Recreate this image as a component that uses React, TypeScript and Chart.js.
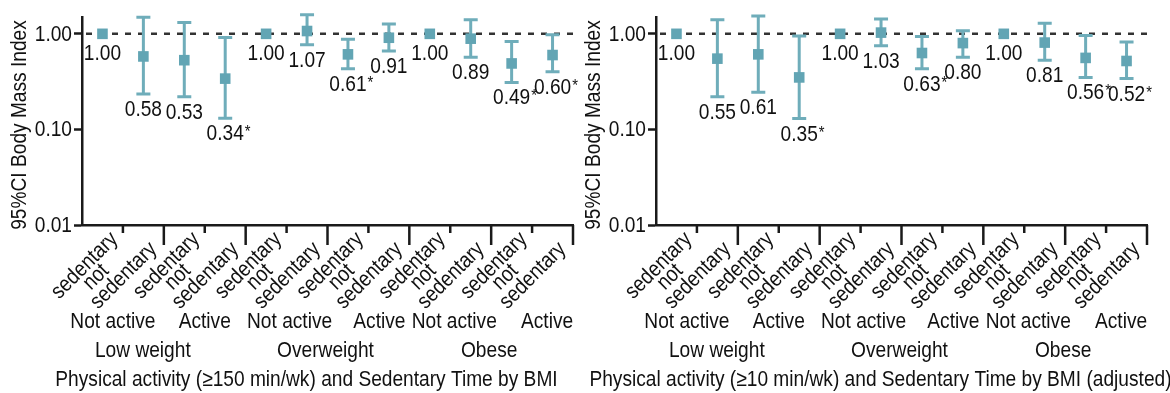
import React, { useEffect, useRef } from "react";
import { Chart, registerables } from "chart.js";

Chart.register(...registerables);

// ---------- data ----------
const categoryLines: string[][] = [
  ["sedentary", "not"], ["sedentary"],
  ["sedentary", "not"], ["sedentary"],
  ["sedentary", "not"], ["sedentary"],
  ["sedentary", "not"], ["sedentary"],
  ["sedentary", "not"], ["sedentary"],
  ["sedentary", "not"], ["sedentary"],
];
const activityGroups = ["Not active", "Active", "Not active", "Active", "Not active", "Active"];
const bmiGroups = ["Low weight", "Overweight", "Obese"];
const yTickValues = [0.01, 0.1, 1];
const yTitle = "95%CI Body Mass Index";

const leftTitle = "Physical activity (≥150 min/wk) and Sedentary Time by BMI";
const leftOR = [1.0, 0.58, 0.53, 0.34, 1.0, 1.07, 0.61, 0.91, 1.0, 0.89, 0.49, 0.6];
const leftLower = [null, 0.235, 0.22, 0.131, null, 0.77, 0.43, 0.66, null, 0.57, 0.31, 0.4];
const leftUpper = [null, 1.49, 1.31, 0.915, null, 1.58, 0.88, 1.27, null, 1.4, 0.83, 0.98];
const leftStar = [false, false, false, true, false, false, true, false, false, false, true, true];

const rightTitle = "Physical activity (≥10 min/wk) and Sedentary Time by BMI (adjusted)";
const rightOR = [1.0, 0.55, 0.61, 0.35, 1.0, 1.03, 0.63, 0.8, 1.0, 0.81, 0.56, 0.52];
const rightLower = [null, 0.22, 0.245, 0.13, null, 0.75, 0.43, 0.57, null, 0.53, 0.35, 0.34];
const rightUpper = [null, 1.4, 1.54, 0.95, null, 1.43, 0.94, 1.08, null, 1.29, 0.96, 0.82];
const rightStar = [false, false, false, true, false, false, true, false, false, false, true, true];

// ---------- styles ----------
const FONT = '"Liberation Sans", Arial, sans-serif';
const FS = 22;
const HS = 0.87; // horizontal condensing of text
const TEXT = "#111";
const AXIS = "#1a1a1a";
const POINT = "#62a5b4";
const BAR = "#6fadba";
// small horizontal nudges of group labels, as in the original layout
const activityNudge = [-10, 0, 3, 11, 4, 15];
const bmiNudge = [-21, -2, -2];

type PanelData = {
  title: string;
  or: number[];
  lower: (number | null)[];
  upper: (number | null)[];
  star: boolean[];
};

function drawText(
  ctx: CanvasRenderingContext2D,
  s: string,
  x: number,
  y: number,
  align: CanvasTextAlign,
  baseline: CanvasTextBaseline,
  size = FS,
  rot = 0
) {
  ctx.save();
  ctx.translate(x, y);
  if (rot) ctx.rotate(rot);
  ctx.scale(HS, 1);
  ctx.font = `${size}px ${FONT}`;
  ctx.fillStyle = TEXT;
  ctx.textAlign = align;
  ctx.textBaseline = baseline;
  ctx.fillText(s, 0, 0);
  ctx.restore();
}

function measure(ctx: CanvasRenderingContext2D, s: string, size = FS) {
  ctx.save();
  ctx.font = `${size}px ${FONT}`;
  const w = ctx.measureText(s).width * HS;
  ctx.restore();
  return w;
}

function makePlugin(p: PanelData) {
  return {
    id: "panelDecor",
    beforeDatasetsDraw(chart: any) {
      const ctx: CanvasRenderingContext2D = chart.ctx;
      const { left, right } = chart.chartArea;
      const x = chart.scales.x;
      const y = chart.scales.y;
      // reference line at 1.00
      ctx.save();
      ctx.strokeStyle = "#333";
      ctx.lineWidth = 2.5;
      ctx.setLineDash([6, 7]);
      const py = y.getPixelForValue(1);
      ctx.beginPath();
      ctx.moveTo(left + 4, py);
      ctx.lineTo(right, py);
      ctx.stroke();
      ctx.restore();
      // error bars
      ctx.save();
      ctx.strokeStyle = BAR;
      ctx.lineWidth = 3;
      p.or.forEach((_, i) => {
        const lo = p.lower[i];
        const hi = p.upper[i];
        if (lo == null || hi == null) return;
        const cx = x.getPixelForValue(i);
        const yl = y.getPixelForValue(lo);
        const yh = y.getPixelForValue(hi);
        ctx.beginPath();
        ctx.moveTo(cx, yl);
        ctx.lineTo(cx, yh);
        ctx.moveTo(cx - 7, yl);
        ctx.lineTo(cx + 7, yl);
        ctx.moveTo(cx - 7, yh);
        ctx.lineTo(cx + 7, yh);
        ctx.stroke();
      });
      ctx.restore();
    },
    afterDraw(chart: any) {
      const ctx: CanvasRenderingContext2D = chart.ctx;
      const { left, right, top, bottom } = chart.chartArea;
      const x = chart.scales.x;
      const y = chart.scales.y;

      // y tick labels
      yTickValues.forEach((v) => {
        drawText(ctx, v.toFixed(2), left - 10, y.getPixelForValue(v) + 1, "right", "middle");
      });
      // y title
      drawText(ctx, yTitle, 20, (top + bottom) / 2 + 4, "center", "middle", FS, -Math.PI / 2);

      // x tick marks at category boundaries
      ctx.save();
      ctx.strokeStyle = AXIS;
      ctx.lineWidth = 2.5;
      for (let k = 1; k <= p.or.length; k++) {
        const px = x.getPixelForValue(k - 0.5);
        const len = k % 2 === 0 ? 20 : 8;
        ctx.beginPath();
        ctx.moveTo(px, bottom);
        ctx.lineTo(px, bottom + len);
        ctx.stroke();
      }
      ctx.restore();

      // value labels
      p.or.forEach((v, i) => {
        const cx = x.getPixelForValue(i);
        const lo = p.lower[i];
        const base = lo != null ? y.getPixelForValue(lo) + 22 : y.getPixelForValue(v) + 26;
        const s = v.toFixed(2);
        drawText(ctx, s, cx, base, "center", "alphabetic");
        if (p.star[i]) {
          const w = measure(ctx, s);
          drawText(ctx, "*", cx + w / 2 + 1, base - 3, "left", "alphabetic", 17);
        }
      });

      // rotated category labels
      const rot = -Math.PI / 4;
      categoryLines.forEach((lines, i) => {
        const cx = x.getPixelForValue(i);
        if (lines.length === 1) {
          drawText(ctx, lines[0], cx + 10, bottom + 21, "right", "middle", FS, rot);
        } else {
          const w1 = measure(ctx, lines[0]);
          ctx.save();
          ctx.translate(cx + 12, bottom + 11);
          ctx.rotate(rot);
          lines.forEach((ln, j) => {
            drawText(ctx, ln, -w1 / 2, j * 16, "center", "middle");
          });
          ctx.restore();
        }
      });

      // activity group labels
      activityGroups.forEach((g, j) => {
        const cx = (x.getPixelForValue(2 * j) + x.getPixelForValue(2 * j + 1)) / 2;
        drawText(ctx, g, cx + activityNudge[j], 328, "center", "alphabetic");
      });
      // BMI group labels
      bmiGroups.forEach((g, j) => {
        const cx = (x.getPixelForValue(4 * j) + x.getPixelForValue(4 * j + 3)) / 2;
        drawText(ctx, g, cx + bmiNudge[j], 357, "center", "alphabetic");
      });
      // axis title
      drawText(ctx, p.title, (left + right) / 2 - 21, 386, "center", "alphabetic");
    },
  };
}

function Panel({ data, left, width, padRight }: { data: PanelData; left: number; width: number; padRight: number }) {
  const ref = useRef<HTMLCanvasElement>(null);
  useEffect(() => {
    if (!ref.current) return;
    const chart = new Chart(ref.current, {
      type: "line",
      data: {
        labels: categoryLines.map((l) => l.join(" ")),
        datasets: [
          {
            data: data.or,
            showLine: false,
            pointStyle: "rect",
            pointRadius: 7.5,
            pointHoverRadius: 7.5,
            pointBackgroundColor: POINT,
            pointBorderWidth: 0,
            borderColor: POINT,
            clip: false as any,
          },
        ],
      },
      options: {
        responsive: false,
        animation: false,
        devicePixelRatio: 1,
        layout: { padding: { top: 17, right: padRight, left: 0, bottom: 0 } },
        plugins: { legend: { display: false }, tooltip: { enabled: false } },
        scales: {
          x: {
            type: "category",
            offset: true,
            grid: { display: false },
            ticks: { display: false },
            border: { display: true, color: AXIS, width: 2.5 },
            afterFit: (s: any) => {
              s.height = 393 - 225;
            },
          },
          y: {
            type: "logarithmic",
            min: 0.01,
            max: 1.5,
            afterBuildTicks: (s: any) => {
              s.ticks = yTickValues.map((v) => ({ value: v }));
            },
            ticks: { color: "rgba(0,0,0,0)", font: { size: 12 } },
            grid: { drawOnChartArea: false, drawTicks: true, tickLength: 8, tickColor: AXIS, tickWidth: 2.5 },
            border: { display: true, color: AXIS, width: 2.5 },
            afterFit: (s: any) => {
              s.width = 82;
            },
          },
        },
      },
      plugins: [makePlugin(data)],
    });
    return () => chart.destroy();
  }, []);
  return (
    <canvas
      ref={ref}
      width={width}
      height={393}
      style={{ position: "absolute", left, top: 0, width, height: 393 }}
    />
  );
}

export default function App() {
  const leftData: PanelData = { title: leftTitle, or: leftOR, lower: leftLower, upper: leftUpper, star: leftStar };
  const rightData: PanelData = { title: rightTitle, or: rightOR, lower: rightLower, upper: rightUpper, star: rightStar };
  return (
    <div style={{ position: "absolute", left: 0, top: 0, width: 1170, height: 393, background: "#fff", overflow: "hidden" }}>
      <Panel data={leftData} left={0} width={585} padRight={12} />
      <Panel data={rightData} left={574} width={596} padRight={23} />
    </div>
  );
}
